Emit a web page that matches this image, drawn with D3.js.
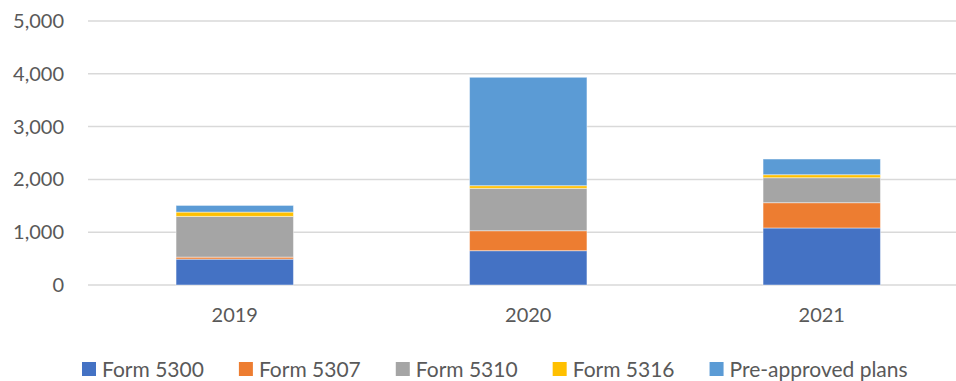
<!DOCTYPE html>
<html>
<head>
<meta charset="utf-8">
<script src="https://cdn.jsdelivr.net/npm/d3@7"></script>
<style>
  html, body { margin: 0; padding: 0; background: #fff; }
  svg { display: block; font-family: Lato, "Open Sans", sans-serif; }
</style>
</head>
<body>
<svg id="chart" width="956" height="381"></svg>
<script>
// Filings by year, stacked by form type
const years = ["2019", "2020", "2021"];
const seriesNames = ["Form 5300", "Form 5307", "Form 5310", "Form 5316", "Pre-approved plans"];
const form5300 = [490, 650, 1080];
const form5307 = [38, 378, 479];
const form5310 = [771, 803, 473];
const form5316 = [82, 50, 57];
const preApproved = [126, 2053, 297];
const yTicks = [0, 1000, 2000, 3000, 4000, 5000];

const colors = ["#4472C4", "#ED7D31", "#A5A5A5", "#FFC000", "#5B9BD5"];
const seriesValues = [form5300, form5307, form5310, form5316, preApproved];

const rows = years.map((y, i) => {
  const r = { year: y };
  seriesNames.forEach((n, k) => { r[n] = seriesValues[k][i]; });
  return r;
});

const svg = d3.select("#chart");
const textColor = "#595959";

const x = d3.scaleBand().domain(years).range([88, 968.5]).paddingInner(0.6).paddingOuter(0.3);
const y = d3.scaleLinear().domain([0, 5000]).range([285, 21]);

// horizontal gridlines
svg.append("g")
  .selectAll("line")
  .data(yTicks)
  .join("line")
  .attr("x1", 88).attr("x2", 968)
  .attr("y1", d => y(d)).attr("y2", d => y(d))
  .attr("stroke", "#d9d9d9")
  .attr("stroke-width", 1.5);

// y axis labels
const yAxis = d3.axisLeft(y).tickValues(yTicks).tickFormat(d3.format(",")).tickSize(0).tickPadding(0);
const yg = svg.append("g").attr("transform", "translate(64,0)").call(yAxis);
yg.select(".domain").remove();
yg.selectAll("text").attr("fill", textColor).style("font-size", "20px").style("font-family", "Lato, sans-serif");

// stacked bars
const stack = d3.stack().keys(seriesNames);
const layers = stack(rows);
svg.append("g")
  .selectAll("g")
  .data(layers)
  .join("g")
  .attr("fill", (d, i) => colors[i])
  .selectAll("rect")
  .data(d => d)
  .join("rect")
  .attr("x", d => x(d.data.year))
  .attr("width", x.bandwidth())
  .attr("y", d => y(d[1]))
  .attr("height", d => y(d[0]) - y(d[1]))
  .attr("stroke", "#ffffff")
  .attr("stroke-opacity", 0.45)
  .attr("stroke-width", 1);

// x axis labels
const xAxis = d3.axisBottom(x).tickSize(0).tickPadding(0);
const xg = svg.append("g").attr("transform", "translate(0,308)").call(xAxis);
xg.select(".domain").remove();
xg.selectAll("text").attr("fill", textColor).style("font-size", "20px").style("font-family", "Lato, sans-serif");

// legend, laid out left to right from its first swatch
const legend = svg.append("g");
const items = legend.selectAll("g")
  .data(seriesNames)
  .join("g");
items.append("rect")
  .attr("width", 14).attr("height", 14)
  .attr("y", 362)
  .attr("fill", (d, i) => colors[i]);
items.append("text")
  .attr("x", 20)
  .attr("y", 376.5)
  .attr("fill", textColor)
  .style("font-size", "21px")
  .text(d => d);

const gap = 35;
let cx = 82;
items.each(function() {
  const g = d3.select(this);
  g.attr("transform", `translate(${cx},0)`);
  cx += 20 + g.select("text").node().getComputedTextLength() + gap;
});
</script>
</body>
</html>
